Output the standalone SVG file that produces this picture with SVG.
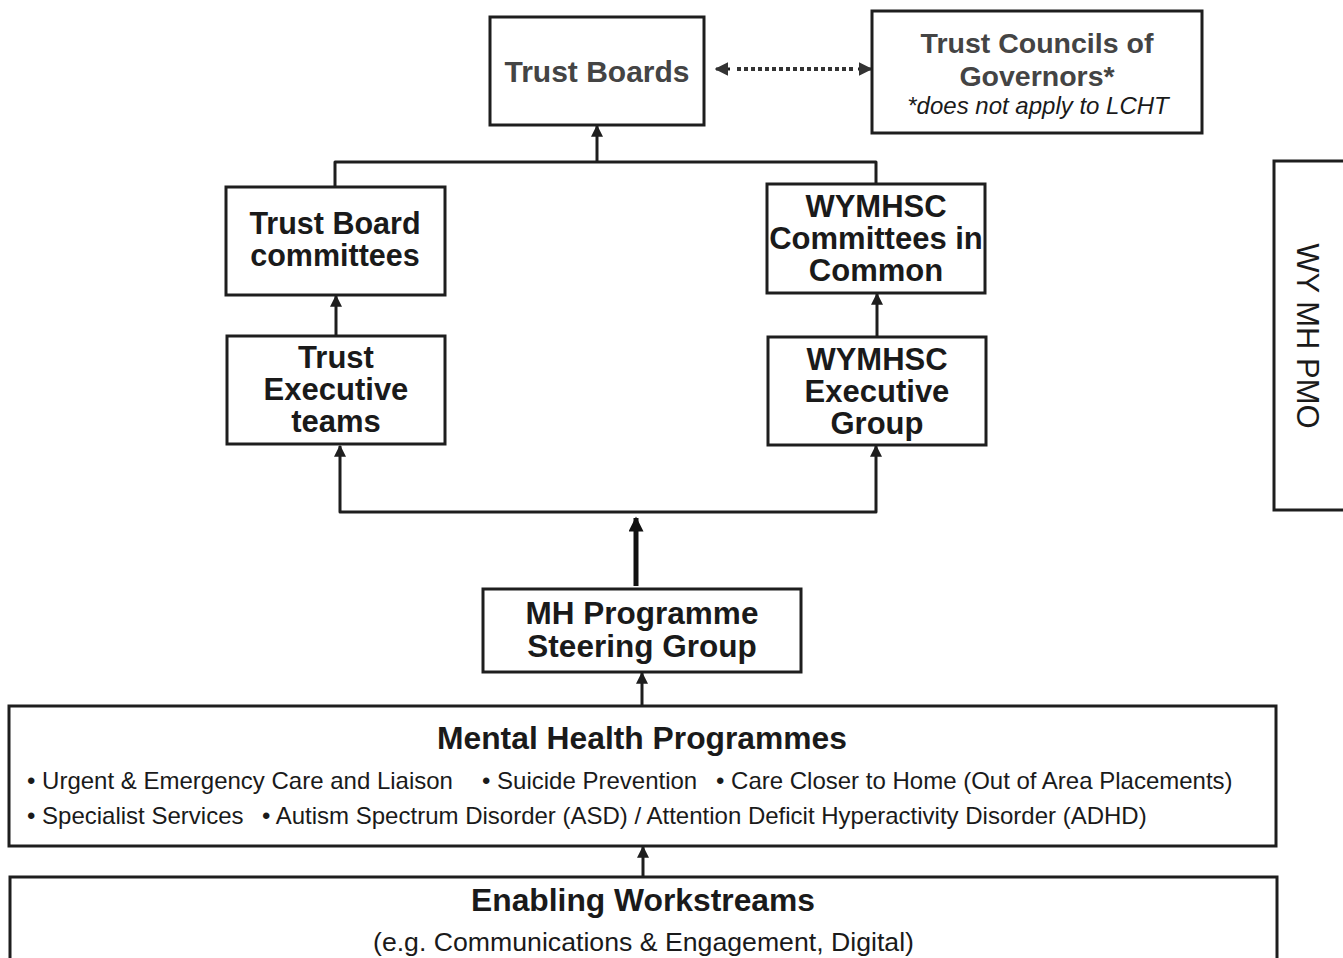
<svg xmlns="http://www.w3.org/2000/svg" width="1343" height="958" viewBox="0 0 1343 958">
<style>
.box{fill:#fff;stroke:#1e1e1e;stroke-width:3}
.t{font-family:"Liberation Sans",Arial,sans-serif;font-weight:bold;font-size:31px;fill:#1a1a1a;text-anchor:middle}
.g{fill:#444}
.r{font-family:"Liberation Sans",Arial,sans-serif;font-size:24px;fill:#1a1a1a}
.c{fill:none;stroke:#1e1e1e;stroke-width:3;stroke-linejoin:round}
</style>
<defs>
<marker id="ah" viewBox="0 0 10 10" refX="9" refY="5" markerWidth="4.2" markerHeight="4" orient="auto-start-reverse" markerUnits="strokeWidth"><path d="M0,0 L10,5 L0,10 z" fill="#1e1e1e"/></marker>
<marker id="ahd" viewBox="0 0 10 10" refX="9" refY="5" markerWidth="4.5" markerHeight="4.5" orient="auto-start-reverse" markerUnits="strokeWidth"><path d="M0,0 L10,5 L0,10 z" fill="#333"/></marker>
<marker id="ahb" viewBox="0 0 10 10" refX="9" refY="5" markerWidth="3.4" markerHeight="3" orient="auto" markerUnits="strokeWidth"><path d="M0,0 L10,5 L0,10 z" fill="#111"/></marker>
</defs>

<g id="connectors">
<line x1="737" y1="69" x2="853" y2="69" stroke="#333" stroke-width="4" stroke-dasharray="4,3"/>
<path d="M730,69 L716,69" class="c" stroke="#333" marker-end="url(#ahd)"/>
<path d="M858,69 L871,69" class="c" stroke="#333" marker-end="url(#ahd)"/>
<path d="M335,187 L335,162 L876,162 L876,184" class="c"/>
<path d="M597,162 L597,126" class="c" marker-end="url(#ah)"/>
<path d="M336,336 L336,296" class="c" marker-end="url(#ah)"/>
<path d="M877,337 L877,294" class="c" marker-end="url(#ah)"/>
<path d="M340,446 L340,512 L876,512 L876,446" class="c" marker-start="url(#ah)" marker-end="url(#ah)"/>
<path d="M636,586 L636,518" fill="none" stroke="#111" stroke-width="5" marker-end="url(#ahb)"/>
<path d="M642,706 L642,673" class="c" marker-end="url(#ah)"/>
<path d="M643,877 L643,847" class="c" marker-end="url(#ah)"/>
</g>

<g id="trust-boards">
<rect class="box" x="490" y="17" width="214" height="108"/>
<text class="t g" x="597" y="82" style="font-size:30px">Trust Boards</text>
</g>

<g id="trust-councils">
<rect class="box" x="872" y="11" width="330" height="122"/>
<text class="t g" x="1037" y="53" style="font-size:28.5px">Trust Councils of</text>
<text class="t g" x="1037" y="86" style="font-size:28.5px">Governors*</text>
<text class="r g" x="1038" y="114" text-anchor="middle" font-style="italic">*does not apply to LCHT</text>
</g>

<g id="trust-board-committees">
<rect class="box" x="226" y="187" width="219" height="108"/>
<text class="t" x="335" y="234" style="font-size:30.5px">Trust Board</text>
<text class="t" x="335" y="266" style="font-size:30.5px">committees</text>
</g>

<g id="wymhsc-committees">
<rect class="box" x="767" y="184" width="218" height="109"/>
<text class="t" x="876" y="217">WYMHSC</text>
<text class="t" x="876" y="249">Committees in</text>
<text class="t" x="876" y="281">Common</text>
</g>

<g id="trust-executive-teams">
<rect class="box" x="227" y="336" width="218" height="108"/>
<text class="t" x="336" y="368">Trust</text>
<text class="t" x="336" y="400">Executive</text>
<text class="t" x="336" y="432">teams</text>
</g>

<g id="wymhsc-executive-group">
<rect class="box" x="768" y="337" width="218" height="108"/>
<text class="t" x="877" y="370">WYMHSC</text>
<text class="t" x="877" y="402">Executive</text>
<text class="t" x="877" y="434">Group</text>
</g>

<g id="wy-mh-pmo">
<rect class="box" x="1274" y="161" width="80" height="349"/>
<text font-family="Liberation Sans, Arial, sans-serif" font-size="31" fill="#1a1a1a" text-anchor="middle" transform="translate(1297,336) rotate(90)">WY MH PMO</text>
</g>

<g id="mh-steering-group">
<rect class="box" x="483" y="589" width="318" height="83"/>
<text class="t" x="642" y="624" style="font-size:31.5px">MH Programme</text>
<text class="t" x="642" y="657" style="font-size:31.5px">Steering Group</text>
</g>

<g id="mental-health-programmes">
<rect class="box" x="9" y="706" width="1267" height="140"/>
<text class="t" x="642" y="749" style="font-size:31.8px">Mental Health Programmes</text>
<text class="r" x="27" y="789">• Urgent &amp; Emergency Care and Liaison</text>
<text class="r" x="482" y="789">• Suicide Prevention</text>
<text class="r" x="716" y="789">• Care Closer to Home (Out of Area Placements)</text>
<text class="r" x="27" y="824">• Specialist Services</text>
<text class="r" x="262" y="824">• Autism Spectrum Disorder (ASD) / Attention Deficit Hyperactivity Disorder (ADHD)</text>
</g>

<g id="enabling-workstreams">
<rect class="box" x="10" y="877" width="1267" height="95"/>
<text class="t" x="643" y="911" style="font-size:31.8px">Enabling Workstreams</text>
<text class="r" x="373" y="951" textLength="541" lengthAdjust="spacingAndGlyphs" style="font-size:25px">(e.g. Communications &amp; Engagement, Digital)</text>
</g>
</svg>
